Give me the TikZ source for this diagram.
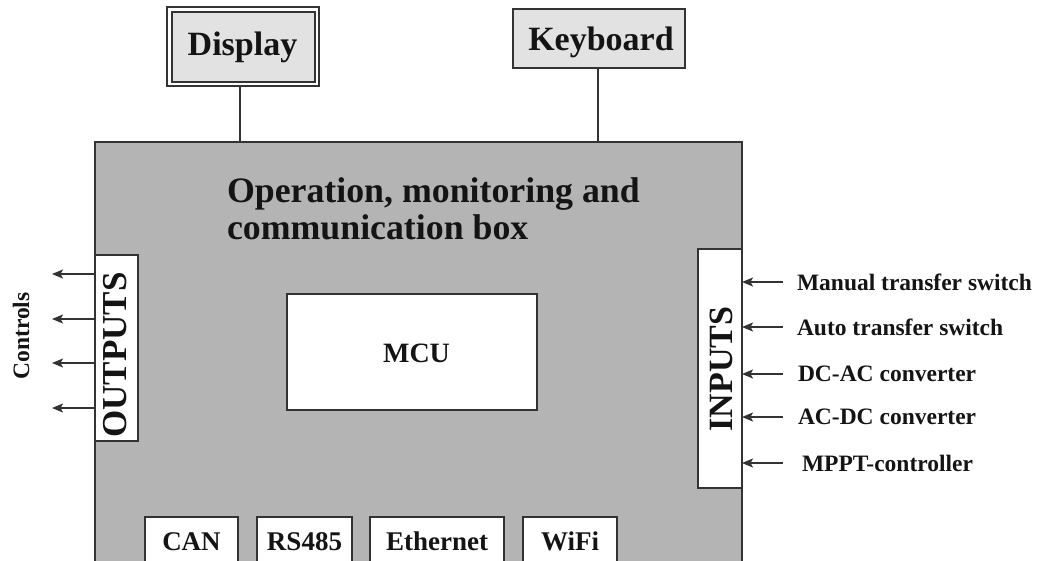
\documentclass[tikz,border=0pt]{standalone}
\usepackage{fontspec}
\setmainfont{Liberation Serif}
\usetikzlibrary{arrows.meta}
\definecolor{ln}{HTML}{333333}
\definecolor{boxgray}{HTML}{B4B4B4}
\definecolor{lightgray}{HTML}{E2E2E2}
\begin{document}
\begin{tikzpicture}[x=1pt,y=-1pt,
  frame/.style={draw=ln, line width=1.7pt, inner sep=0pt, outer sep=0pt, anchor=north west},
  txt/.style={inner sep=0pt, outer sep=0pt, text=black!92},
  big/.style={txt, font=\bfseries\fontsize{34}{38}\selectfont},
  lbl/.style={txt, font=\bfseries\fontsize{23.5}{26}\selectfont, anchor=west},
  small/.style={txt, font=\bfseries\fontsize{27}{30}\selectfont, anchor=base},
  arr/.style={draw=ln, line width=1.6pt, -{Stealth[length=11pt,width=9pt,inset=2.5pt]}},
  wire/.style={draw=ln, line width=1.7pt}]
\clip (0,0) rectangle (1049,560);

% main box
\node[frame, fill=boxgray, minimum width=647pt, minimum height=433pt] (main) at (95,142) {};

% display (double frame)
\node[frame, fill=white, minimum width=152pt, minimum height=79pt] (dispout) at (167,7) {};
\node[frame, fill=lightgray, minimum width=143pt, minimum height=70pt] (dispin) at (172,12) {};
\node[big, anchor=base] (disptxt) at (242.5,55) {Display};

% keyboard
\node[frame, fill=lightgray, minimum width=172pt, minimum height=59pt] (kbd) at (513,9) {};
\node[big, anchor=base] (kbdtxt) at (601,50) {Keyboard};

\draw[wire] ([xshift=-3pt]dispout.south) -- ([xshift=-3pt]dispout.south |- main.north);
\draw[wire] ([xshift=-1pt]kbd.south) -- ([xshift=-1pt]kbd.south |- main.north);

% title
\node[txt, anchor=north west, align=left, font=\bfseries\fontsize{35.8}{37}\selectfont] (title) at (227,178)
  {Operation, monitoring and\\communication box};

% MCU
\node[frame, fill=white, minimum width=250pt, minimum height=116pt] (mcu) at (287,294) {};
\node[txt, anchor=base, font=\bfseries\fontsize{28}{30}\selectfont] (mcutxt) at (416.5,362) {MCU};

% outputs
\node[frame, fill=white, minimum width=43pt, minimum height=186pt] (out) at (95,255) {};
\node[big, rotate=90, font=\bfseries\fontsize{35}{38}\selectfont] (outtxt) at (115.5,355) {OUTPUTS};

% inputs
\node[frame, fill=white, minimum width=44pt, minimum height=239pt] (inp) at (698,249) {};
\node[big, rotate=90] (inptxt) at (721,369) {INPUTS};

% controls
\coordinate (c1) at (52,274);
\coordinate (c2) at (52,319);
\coordinate (c3) at (52,363);
\coordinate (c4) at (52,408);
\foreach \c in {c1,c2,c3,c4} \draw[arr] (\c -| out.west) -- (\c);
\node[lbl, anchor=center, rotate=90] (ctrl) at (21,336) {Controls};

% input labels
\node[lbl] (l1) at (797,282) {Manual transfer switch};
\node[lbl] (l2) at (797,327) {Auto transfer switch};
\node[lbl] (l3) at (798,374) {DC-AC converter};
\node[lbl] (l4) at (798,417) {AC-DC converter};
\node[lbl] (l5) at (802,463) {MPPT-controller};
\foreach \l/\s in {l1/14,l2/14,l3/15,l4/15,l5/19}
  \draw[arr] ([xshift=-\s pt]\l.west) -- (\l.west -| inp.east);

% bottom interfaces
\node[frame, fill=white, minimum width=93pt, minimum height=60pt] (can) at (145,517) {};
\node[frame, fill=white, minimum width=95pt, minimum height=60pt] (rs) at (257,517) {};
\node[frame, fill=white, minimum width=134pt, minimum height=60pt] (eth) at (370,517) {};
\node[frame, fill=white, minimum width=94pt, minimum height=60pt] (wifi) at (523,517) {};
\node[small] (cantxt) at (191.5,550) {CAN};
\node[small] (rstxt) at (304.5,550) {RS485};
\node[small] (ethtxt) at (437,550) {Ethernet};
\node[small] (wifitxt) at (570,550) {WiFi};
\end{tikzpicture}
\end{document}
